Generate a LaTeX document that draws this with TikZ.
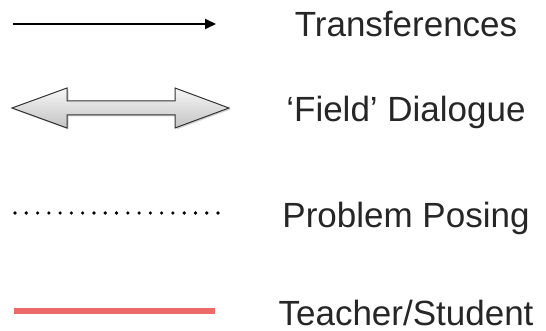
\documentclass[tikz,border=0pt]{standalone}
\usepackage{fontspec}
\setmainfont{Liberation Sans}
\usetikzlibrary{arrows.meta,shadows}
\definecolor{redline}{RGB}{236,90,90}
\definecolor{arrtop}{RGB}{246,246,246}
\definecolor{arrbot}{RGB}{196,196,196}
\tikzset{
  lbl/.style={anchor=base,font=\fontsize{35}{40}\selectfont,text=black!85,inner sep=0pt},
  transfer/.style={line width=2pt,-{Triangle[length=11pt,width=10pt]}},
  posing/.style={line width=3.6pt,line cap=round,dash pattern=on 0pt off 11.28pt},
  teacher/.style={line width=5.5pt,redline,opacity=0.9},
  dialogue/.style={draw=black!80,line width=1pt,top color=arrtop,bottom color=arrbot,drop shadow={shadow xshift=1.5pt,shadow yshift=-1.5pt,opacity=0.35}}
}
\begin{document}
\begin{tikzpicture}[x=1pt,y=-1pt]
\useasboundingbox (0,0) rectangle (546,331);
% legend 1
\coordinate (t1) at (13,24);
\coordinate (t2) at (216,24);
\draw[transfer] (t1) -- (t2);
\node[lbl] (ltrans) at (406,37) {Transferences};
% legend 2
\path[dialogue] (12,108) -- (67,88) -- (67,101) -- (175,101) -- (175,88) -- (229,108)
  -- (175,128) -- (175,115) -- (67,115) -- (67,128) -- cycle;
\node[lbl] (lfield) at (406,122) {‘Field’ Dialogue};
% legend 3
\coordinate (p1) at (15,213);
\coordinate (p2) at (219,213);
\draw[posing] (p1) -- (p2);
\node[lbl] (lposing) at (406,227) {Problem Posing};
% legend 4
\coordinate (s1) at (14,311);
\coordinate (s2) at (215,311);
\draw[teacher] (s1) -- (s2);
\node[lbl] (lteacher) at (406,325) {Teacher/Student};
\end{tikzpicture}
\end{document}
